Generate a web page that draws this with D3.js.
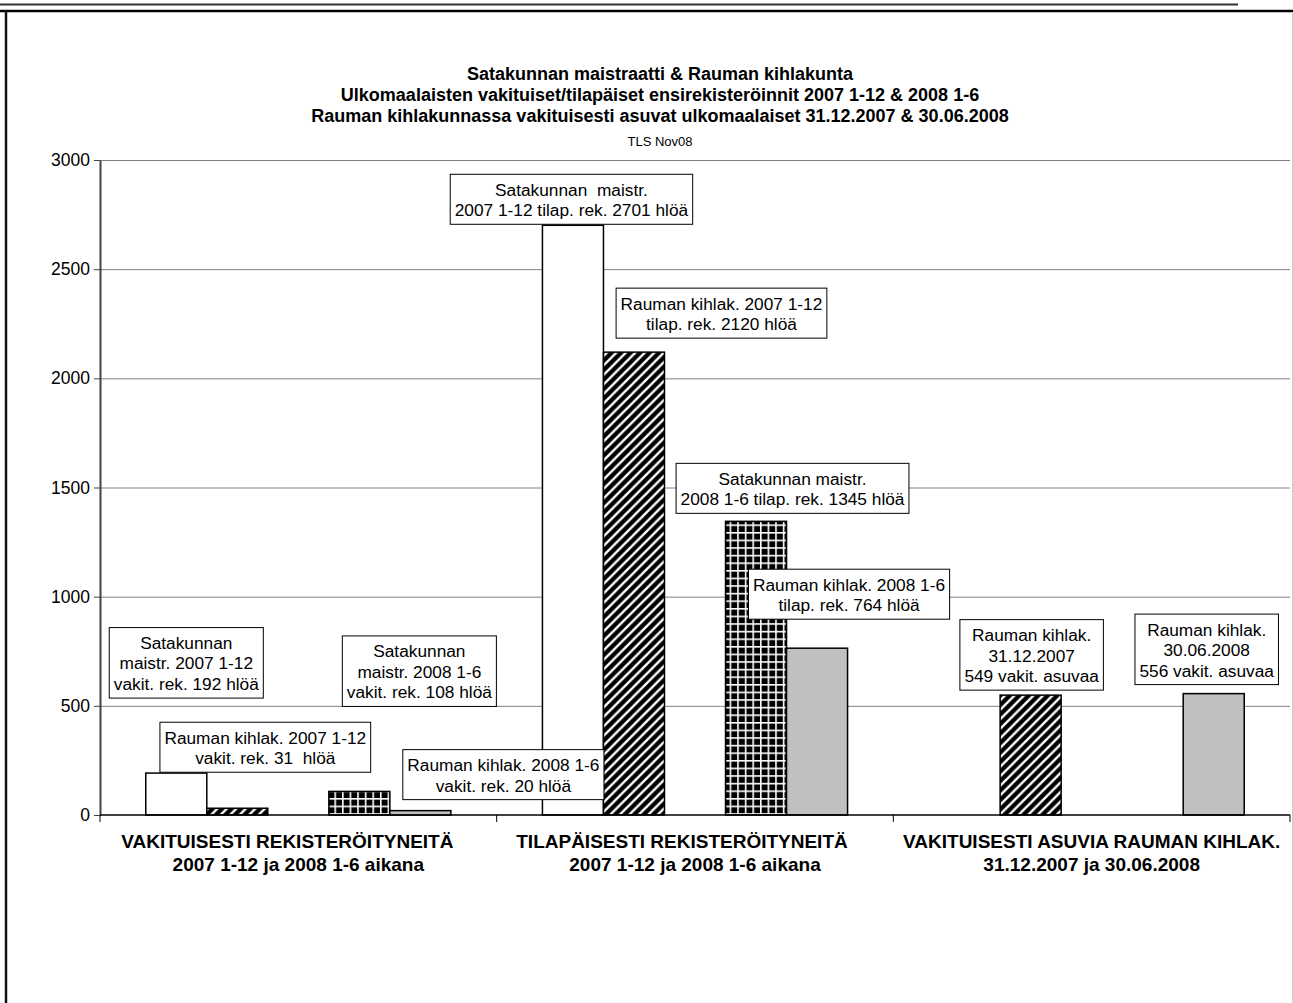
<!DOCTYPE html>
<html>
<head>
<meta charset="utf-8">
<script src="https://cdn.jsdelivr.net/npm/d3@7"></script>
<style>
    body { margin: 0; background: #fff; }
    svg { display: block; font-family: "Liberation Sans", Arial, sans-serif; }
    .lbl text, .cat text { white-space: pre; }
</style>
</head>
<body>
<svg id="chart" width="1293" height="1003"></svg>
<script>
// data
const titleLines = [
    "Satakunnan maistraatti & Rauman kihlakunta",
    "Ulkomaalaisten vakituiset/tilapäiset ensirekisteröinnit 2007 1-12 & 2008 1-6",
    "Rauman kihlakunnassa vakituisesti asuvat ulkomaalaiset 31.12.2007 & 30.06.2008"
];
const subTitle = "TLS Nov08";

const categories = [
    ["VAKITUISESTI REKISTERÖITYNEITÄ", "2007 1-12 ja 2008 1-6 aikana"],
    ["TILAPÄISESTI REKISTERÖITYNEITÄ", "2007 1-12 ja 2008 1-6 aikana"],
    ["VAKITUISESTI ASUVIA RAUMAN KIHLAK.", "31.12.2007 ja 30.06.2008"]
];

const seriesNames = ["Satakunnan maistr. 2007", "Rauman kihlak. 2007", "tyhjä", "Satakunnan maistr. 2008", "Rauman kihlak. 2008"];
const satakunta2007 = [192, 2701, null];
const rauma2007 = [31, 2120, 549];
const empty = [0, null, null];
const satakunta2008 = [108, 1345, null];
const rauma2008 = [20, 764, 556];

const yTicks = [0, 500, 1000, 1500, 2000, 2500, 3000];

// data labels: text, and which [category, series] bar they belong to
const labelTexts = [
    ["Satakunnan", "maistr. 2007 1-12", "vakit. rek. 192 hlöä"],
    ["Rauman kihlak. 2007 1-12", "vakit. rek. 31  hlöä"],
    ["Satakunnan", "maistr. 2008 1-6", "vakit. rek. 108 hlöä"],
    ["Rauman kihlak. 2008 1-6", "vakit. rek. 20 hlöä"],
    ["Satakunnan  maistr.", "2007 1-12 tilap. rek. 2701 hlöä"],
    ["Rauman kihlak. 2007 1-12", "tilap. rek. 2120 hlöä"],
    ["Satakunnan maistr.", "2008 1-6 tilap. rek. 1345 hlöä"],
    ["Rauman kihlak. 2008 1-6", "tilap. rek. 764 hlöä"],
    ["Rauman kihlak.", "31.12.2007", "549 vakit. asuvaa"],
    ["Rauman kihlak.", "30.06.2008", "556 vakit. asuvaa"]
];
const labelBars = [[0, 0], [0, 1], [0, 3], [0, 4], [1, 0], [1, 1], [1, 3], [1, 4], [2, 1], [2, 4]];

// layout: label box moved from the bar top centre (dx, bottom dy), like dragged in excel
const labelOffsets = [[10, -75], [28, -36], [60, -85], [83, -11], [-1.5, -1], [87.5, -14], [36.5, -8], [32, -29], [1, -5], [-7, -9]];
// first row of category text sits a bit left (trailing spaces in the original)
const catShift = [-11, -13, 0];

const seriesValues = [satakunta2007, rauma2007, empty, satakunta2008, rauma2008];
const seriesFill = ["#fff", "url(#diag)", "#000", "url(#grid)", "#c0c0c0"];

const svg = d3.select("#chart");
const margin = { left: 100, right: 3, top: 160, bottom: 188 };
const width = +svg.attr("width");
const height = +svg.attr("height");

// page frame
svg.append("line")
    .attr("x1", 0).attr("x2", 1238).attr("y1", 4.5).attr("y2", 4.5)
    .attr("stroke", "#333").attr("stroke-width", 2);
svg.append("line")
    .attr("x1", 0).attr("x2", width).attr("y1", 11).attr("y2", 11)
    .attr("stroke", "#000").attr("stroke-width", 2.5);
svg.append("line")
    .attr("x1", 6).attr("x2", 6).attr("y1", 10).attr("y2", height)
    .attr("stroke", "#111").attr("stroke-width", 2.5);
svg.append("line")
    .attr("x1", width - 0.5).attr("x2", width - 0.5).attr("y1", 12).attr("y2", height)
    .attr("stroke", "#ccc").attr("stroke-width", 1);

// fill patterns
const defs = svg.append("defs");
const dp = 9.5;
const diag = defs.append("pattern")
    .attr("id", "diag")
    .attr("patternUnits", "userSpaceOnUse")
    .attr("width", dp).attr("height", dp);
diag.append("rect").attr("width", dp).attr("height", dp).attr("fill", "#000");
diag.append("path")
    .attr("d", `M-3,3 L3,-3 M0,${dp} L${dp},0 M${dp - 3},${dp + 3} L${dp + 3},${dp - 3}`)
    .attr("stroke", "#fff").attr("stroke-width", 2.4);

const gp = 7.6;
const grid = defs.append("pattern")
    .attr("id", "grid")
    .attr("patternUnits", "userSpaceOnUse")
    .attr("width", gp).attr("height", gp);
grid.append("rect").attr("width", gp).attr("height", gp).attr("fill", "#fff");
grid.append("rect").attr("x", 1.6).attr("y", 1.6).attr("width", gp - 1.6).attr("height", gp - 1.6).attr("fill", "#000");

// titles
const titleG = svg.append("g")
    .attr("text-anchor", "middle")
    .attr("font-weight", "bold")
    .attr("font-size", "18px");
titleG.selectAll("text")
    .data(titleLines)
    .enter()
    .append("text")
    .attr("x", 660)
    .attr("y", (d, i) => 80 + i * 21)
    .text(d => d);
svg.append("text")
    .attr("x", 660).attr("y", 145.5)
    .attr("text-anchor", "middle")
    .attr("font-size", "13px")
    .text(subTitle);

// scales
const x0 = d3.scaleBand()
    .domain(d3.range(categories.length))
    .range([margin.left, width - margin.right])
    .paddingInner(0)
    .paddingOuter(0);

const x1 = d3.scaleBand()
    .domain(d3.range(seriesNames.length))
    .range([0, x0.bandwidth()])
    .paddingInner(0)
    .paddingOuter(0.75);

const y = d3.scaleLinear()
    .domain([0, 3000])
    .range([height - margin.bottom, margin.top]);

// gridlines
svg.append("g")
    .attr("transform", `translate(${margin.left},0)`)
    .call(d3.axisLeft(y).tickValues(yTicks.slice(1)).tickSize(-(width - margin.left - margin.right)).tickFormat(""))
    .call(g => g.select(".domain").remove())
    .selectAll("line")
    .attr("stroke", "#808080");

// y axis
svg.append("g")
    .attr("transform", `translate(${margin.left},0)`)
    .call(d3.axisLeft(y).tickValues(yTicks).tickFormat(d3.format("d")).tickSize(6).tickPadding(4).tickSizeOuter(0))
    .call(g => g.select(".domain").attr("stroke", "#444").attr("stroke-width", 2))
    .call(g => g.selectAll("line").attr("stroke", "#444"))
    .call(g => g.selectAll("text")
        .attr("fill", "#000")
        .attr("font-size", "17.5px")
        .attr("font-family", "Liberation Sans, Arial, sans-serif"));

// bars
const bars = [];
seriesValues.forEach((vals, s) => {
    vals.forEach((v, c) => {
        if (v !== null) bars.push({ c, s, v });
    });
});

svg.append("g")
    .selectAll("rect")
    .data(bars)
    .enter()
    .append("rect")
    .attr("x", d => x0(d.c) + x1(d.s))
    .attr("y", d => y(d.v))
    .attr("width", x1.bandwidth())
    .attr("height", d => y(0) - y(d.v))
    .attr("fill", d => seriesFill[d.s])
    .attr("stroke", "#000")
    .attr("stroke-width", 1.5);

// x axis with ticks on category borders
svg.append("line")
    .attr("x1", margin.left).attr("x2", width - margin.right)
    .attr("y1", y(0)).attr("y2", y(0))
    .attr("stroke", "#000").attr("stroke-width", 1.5);
svg.append("g")
    .selectAll("line")
    .data(d3.range(categories.length + 1))
    .enter()
    .append("line")
    .attr("x1", i => margin.left + i * x0.step())
    .attr("x2", i => margin.left + i * x0.step())
    .attr("y1", y(0))
    .attr("y2", y(0) + 7)
    .attr("stroke", "#000");

const catG = svg.append("g")
    .attr("class", "cat")
    .attr("text-anchor", "middle")
    .attr("font-weight", "bold")
    .attr("font-size", "19px");
categories.forEach((lines, c) => {
    catG.selectAll(null)
        .data(lines)
        .enter()
        .append("text")
        .attr("x", (d, i) => x0(c) + x0.bandwidth() / 2 + (i === 0 ? catShift[c] : 0))
        .attr("y", (d, i) => y(0) + 33 + i * 23)
        .text(d => d);
});

// data label boxes
const lineH = 20.5;
const lblG = svg.append("g").attr("class", "lbl");
labelTexts.forEach((lines, i) => {
    const [c, s] = labelBars[i];
    const v = seriesValues[s][c];
    const [dx, dy] = labelOffsets[i];
    const cx = x0(c) + x1(s) + x1.bandwidth() / 2 + dx;
    const bottom = y(v) + dy;
    const g = lblG.append("g");
    const box = g.append("rect")
        .attr("fill", "#fff")
        .attr("stroke", "#000")
        .attr("stroke-width", 1);
    const boxH = lines.length * lineH + 9;
    const texts = g.selectAll("text")
        .data(lines)
        .enter()
        .append("text")
        .attr("x", cx)
        .attr("y", (d, j) => bottom - boxH + 5 + (j + 0.8) * lineH)
        .attr("text-anchor", "middle")
        .attr("font-size", "17.3px")
        .text(d => d);
    const boxW = d3.max(texts.nodes(), n => n.getComputedTextLength()) + 9;
    box.attr("x", cx - boxW / 2)
        .attr("y", bottom - boxH)
        .attr("width", boxW)
        .attr("height", boxH);
});
</script>
</body>
</html>
